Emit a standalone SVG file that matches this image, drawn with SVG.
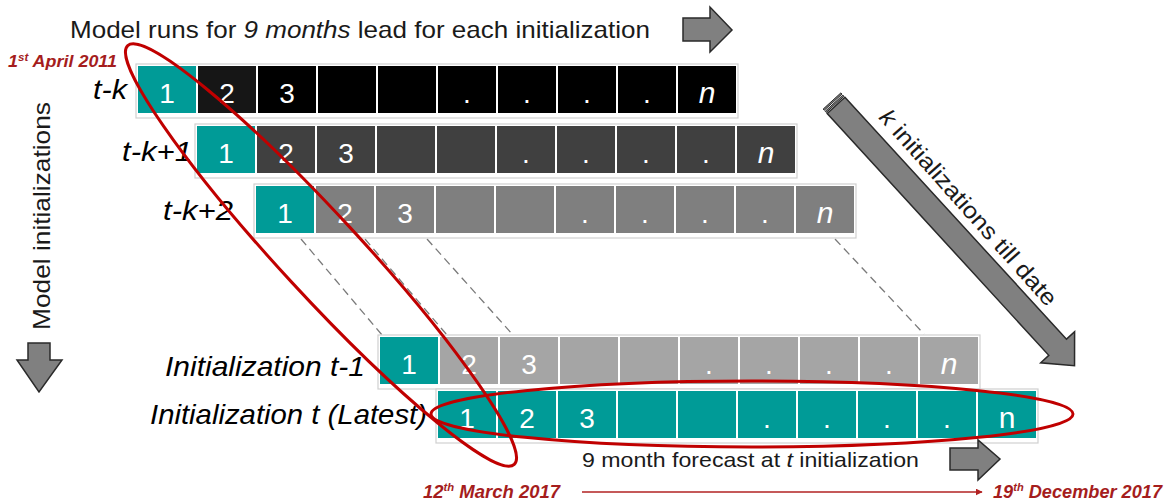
<svg xmlns="http://www.w3.org/2000/svg" xmlns:xlink="http://www.w3.org/1999/xlink" width="1173" height="504" viewBox="0 0 1173 504">
<style>
.txt{font-family:"Liberation Sans",Arial,sans-serif;fill:#1a1a1a}
.it{font-style:italic}
.lbl{font-family:"Liberation Sans",Arial,sans-serif;font-style:italic;font-size:28px;fill:#000}
.cellt{font-family:"Liberation Sans",Arial,sans-serif;font-size:28px;text-anchor:middle}
.nt{font-family:"Liberation Sans",Arial,sans-serif;font-size:30px;text-anchor:middle;fill:#fff}
.box{fill:#fff;stroke:#d0d0d0;stroke-width:1.2}
.teal{fill:#009b97}
.red{font-family:"Liberation Sans",Arial,sans-serif;font-style:italic;font-weight:bold;fill:#a51d1d}
.blk{fill:#808080;stroke:#2a2a2a;stroke-width:1.5;stroke-linejoin:miter}
.dash{stroke:#7a7a7a;stroke-width:1.3;stroke-dasharray:8 5;fill:none}
.ell{fill:none;stroke:#c00000;stroke-width:3}
</style>
<defs>
<g id="cells">
<rect x="2" y="2" width="58" height="47"/><rect x="62" y="2" width="58" height="47"/><rect x="122" y="2" width="58" height="47"/><rect x="182" y="2" width="58" height="47"/><rect x="242" y="2" width="58" height="47"/><rect x="302" y="2" width="58" height="47"/><rect x="362" y="2" width="58" height="47"/><rect x="422" y="2" width="58" height="47"/><rect x="482" y="2" width="58" height="47"/><rect x="542" y="2" width="58" height="47"/>
</g>
<g id="labels" class="cellt">
<text x="91" y="39">2</text><text x="151" y="39">3</text><text x="331" y="39">.</text><text x="391" y="39">.</text><text x="451" y="39">.</text><text x="511" y="39">.</text>
</g>
<marker id="redhead" viewBox="0 0 10 10" refX="9" refY="5" markerWidth="7" markerHeight="7" orient="auto" markerUnits="userSpaceOnUse"><path d="M0,0 L10,5 L0,10 z" fill="#b22222"/></marker>
</defs>

<g id="title">
<text class="txt" x="70" y="38" font-size="24" textLength="580" lengthAdjust="spacingAndGlyphs">Model runs for <tspan class="it">9 months</tspan> lead for each initialization</text>
</g>
<g id="arrow-right-top"><polygon class="blk" points="683,18 710,18 710,7 732,30 710,52 710,41 683,41"/></g>

<g id="date-start"><text class="red" x="8" y="67" font-size="17" textLength="109" lengthAdjust="spacingAndGlyphs">1<tspan font-size="11" dy="-6">st</tspan><tspan dy="6"> April 2011</tspan></text></g>

<g id="model-init-label">
<text class="txt" transform="translate(50,330) rotate(-90)" x="0" y="0" font-size="24" textLength="228" lengthAdjust="spacingAndGlyphs">Model initializations</text>
<polygon class="blk" points="28,343 50,343 50,360 62,360 39,392 17,360 28,360"/>
</g>

<g id="connectors">
<line class="dash" x1="301" y1="239" x2="382" y2="335"/>
<line class="dash" x1="365" y1="239" x2="447" y2="335"/>
<line class="dash" x1="427" y1="239" x2="513" y2="335"/>
<line class="dash" x1="835" y1="239" x2="924" y2="334"/>
<line x1="582" y1="492" x2="982" y2="492" stroke="#b22222" stroke-width="1.3" marker-end="url(#redhead)"/>
</g>

<g id="row-tk" transform="translate(136,64)">
<rect class="box" x="0" y="0" width="602" height="54"/>
<use xlink:href="#cells" fill="#000"/>
<rect x="62" y="2" width="58" height="47" fill="#161616"/>
<rect class="teal" x="2" y="2" width="58" height="47"/>
<text class="cellt" x="31" y="39" fill="#fff">1</text>
<use xlink:href="#labels" fill="#fff"/>
<text class="nt it" x="571" y="39">n</text>
</g>
<text class="lbl" x="93" y="99" textLength="34" lengthAdjust="spacingAndGlyphs">t-k</text>

<g id="row-tk1" transform="translate(195,124)">
<rect class="box" x="0" y="0" width="602" height="54"/>
<use xlink:href="#cells" fill="#404040"/>
<rect class="teal" x="2" y="2" width="58" height="47"/>
<text class="cellt" x="31" y="39" fill="#fff">1</text>
<use xlink:href="#labels" fill="#fff"/>
<text class="nt it" x="571" y="39">n</text>
</g>
<text class="lbl" x="122" y="161" textLength="70" lengthAdjust="spacingAndGlyphs">t-k+1</text>

<g id="row-tk2" transform="translate(254,184)">
<rect class="box" x="0" y="0" width="602" height="54"/>
<use xlink:href="#cells" fill="#7f7f7f"/>
<rect class="teal" x="2" y="2" width="58" height="47"/>
<text class="cellt" x="31" y="39" fill="#fff">1</text>
<use xlink:href="#labels" fill="#fff"/>
<text class="nt it" x="571" y="39">n</text>
</g>
<text class="lbl" x="163" y="220" textLength="70" lengthAdjust="spacingAndGlyphs">t-k+2</text>

<g id="row-t1" transform="translate(378,335)">
<rect class="box" x="0" y="0" width="602" height="54"/>
<use xlink:href="#cells" fill="#a5a5a5"/>
<rect class="teal" x="2" y="2" width="58" height="47"/>
<text class="cellt" x="31" y="39" fill="#fff">1</text>
<use xlink:href="#labels" fill="#fff"/>
<text class="nt it" x="571" y="39">n</text>
</g>
<text class="lbl" x="165" y="376" textLength="200" lengthAdjust="spacingAndGlyphs">Initialization t-1</text>

<g id="row-t" transform="translate(436,389)">
<rect class="box" x="0" y="0" width="602" height="54"/>
<use xlink:href="#cells" fill="#009b97"/>
<text class="cellt" x="31" y="39" fill="#fff">1</text>
<use xlink:href="#labels" fill="#fff"/>
<text class="nt" x="571" y="39">n</text>
</g>
<text class="lbl" x="150" y="424" textLength="277" lengthAdjust="spacingAndGlyphs">Initialization t (Latest)</text>

<g id="k-arrow">
<g transform="translate(832,101) rotate(47.5)">
<polygon class="blk" points="6,-12 334,-12 334,-23 359,0 334,23 334,12 6,12"/>
<rect x="0" y="-12" width="1.6" height="24" fill="#808080" stroke="#222" stroke-width="0.9"/>
<rect x="3" y="-12" width="1.6" height="24" fill="#808080" stroke="#222" stroke-width="0.9"/>
</g>
<text class="txt" transform="translate(878,118) rotate(48.3)" x="0" y="0" font-size="23" textLength="254" lengthAdjust="spacingAndGlyphs"><tspan class="it">k</tspan> initializations till date</text>
</g>

<g id="highlights">
<ellipse class="ell" cx="321" cy="255" rx="285" ry="40" transform="rotate(47.3 321 255)"/>
<ellipse class="ell" cx="752" cy="414" rx="321" ry="33"/>
</g>

<g id="forecast-label">
<text class="txt" x="582" y="467" font-size="21" textLength="337" lengthAdjust="spacingAndGlyphs">9 month forecast at <tspan class="it">t</tspan> initialization</text>
<polygon class="blk" points="950,448 978,448 978,440 1000,459 978,480 978,470 950,470"/>
</g>

<g id="dates">
<text class="red" x="423" y="498" font-size="18" textLength="137" lengthAdjust="spacingAndGlyphs">12<tspan font-size="11" dy="-7">th</tspan><tspan dy="7"> March 2017</tspan></text>
<text class="red" x="993" y="498" font-size="18" textLength="169" lengthAdjust="spacingAndGlyphs">19<tspan font-size="11" dy="-7">th</tspan><tspan dy="7"> December 2017</tspan></text>
</g>
</svg>
